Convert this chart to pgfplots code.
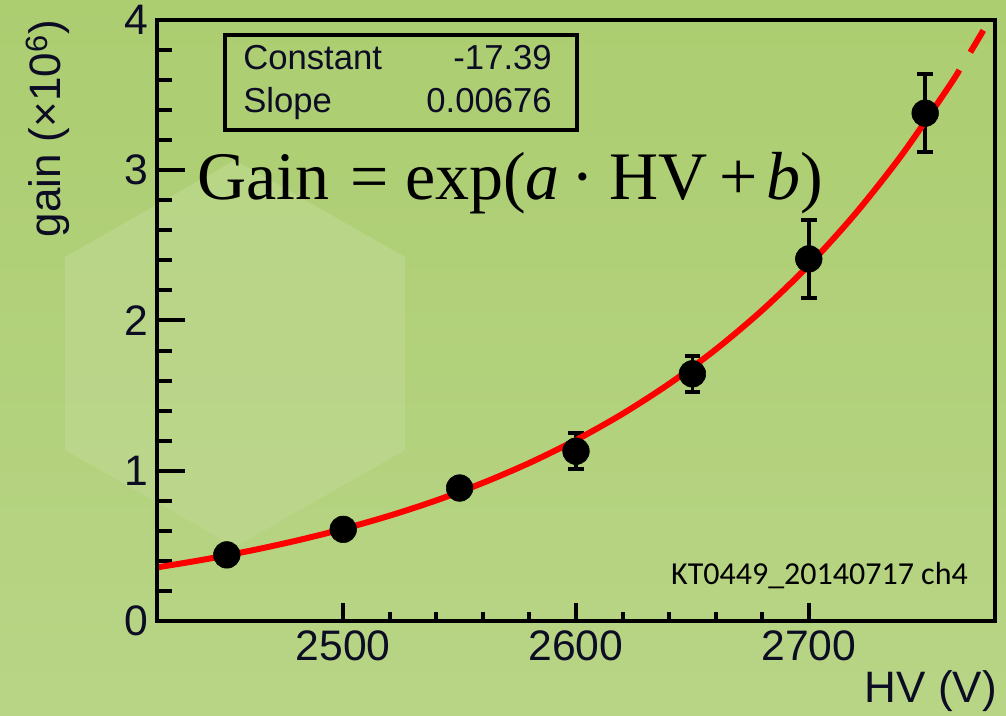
\documentclass[border=0pt]{standalone}
\usepackage{pgfplots}
\pgfplotsset{compat=1.18}
\usepackage{fontspec}
\setmainfont{Liberation Sans}
\newfontfamily\timesfont{Liberation Serif}
\newfontfamily\calibrifont{Carlito}
\definecolor{bgtop}{RGB}{172,205,112}
\definecolor{bgbot}{RGB}{184,213,134}
\definecolor{hexc}{RGB}{192,217,146}
\definecolor{txt}{RGB}{12,12,36}

\pgfplotstableread{
x y ey
2450 0.44 0
2500 0.61 0
2550 0.885 0
2600 1.13 0.12
2650 1.645 0.12
2700 2.41 0.26
2750 3.38 0.26
}\gaindata

\pgfplotsset{
  frameaxis/.style={
    at={(117.75pt,71.25pt)}, anchor=south west,
    scale only axis, width=628.5pt, height=450.75pt,
    xmin=2420, xmax=2780, ymin=0, ymax=4,
    axis line style={line width=3pt, black},
    tick align=inside,
    tick style={line width=3pt, black},
    /pgf/number format/assume math mode=true,
    /pgf/number format/1000 sep={},
    tick label style={font=\fontsize{32}{36}\selectfont, text=txt},
  }
}

\begin{document}
\begin{tikzpicture}[x=0.75pt,y=0.75pt]
\useasboundingbox (0,0) rectangle (1006,716);
\shade[top color=bgtop,bottom color=bgbot] (0,0) rectangle (1006,716);
\fill[hexc,opacity=0.6] (235,556) -- (65,459) -- (65,266) -- (235,169) -- (405,266) -- (405,459) -- cycle;

% y ticks + data
\begin{axis}[frameaxis,
  xtick=\empty,
  ytick={0,1,2,3,4}, minor y tick num=4,
  ytick pos=left,
  major tick length=21pt, minor tick length=11pt,
  yticklabel style={anchor=east, inner sep=0pt, xshift=-6.75pt},
]
\addplot[only marks, mark=*, mark size=10pt, black,
  error bars/.cd, y dir=both, y explicit, error mark=-,
  error bar style={line width=2.6pt, black},
  error mark options={rotate=90, line width=3pt, mark size=5.8pt, black}]
  table[x=x, y=y, y error=ey] {\gaindata};
\addplot[red, line width=4.5pt, smooth] coordinates {
(2420,0.3567) (2440,0.4083) (2460,0.4675) (2480,0.5352) (2500,0.6126)
(2520,0.7013) (2540,0.8028) (2560,0.9191) (2580,1.0521) (2600,1.2044)
(2620,1.3788) (2640,1.5784) (2660,1.8069) (2680,2.0685) (2700,2.3679)
(2720,2.7107) (2740,3.1031) (2760,3.5523) (2764.7,3.667)};
\addplot[red, line width=4.5pt] coordinates {(2769.4,3.785) (2775,3.931)};
\end{axis}

% x ticks
\begin{axis}[frameaxis,
  ytick=\empty,
  xtick={2500,2600,2700}, minor x tick num=4,
  xtick pos=bottom,
  major tick length=13.5pt, minor tick length=6.75pt,
  xticklabel style={anchor=north, inner sep=0pt, yshift=-6.75pt},
]
\end{axis}

% stats box
\draw[line width=3pt, black] (225,681) rectangle (577,586);
\begin{scope}[every node/.style={inner sep=0pt, text=txt, font=\fontsize{26}{30}\selectfont}]
\node[anchor=base west] at (243,646) {Constant};
\node[anchor=base east] at (552,646) {-17.39};
\node[anchor=base west] at (243,603) {Slope};
\node[anchor=base east] at (552,603) {0.00676};
\end{scope}

% formula
\node[anchor=base west, inner sep=0pt, font=\timesfont\fontsize{51}{54}\selectfont]
  at (197,516) {Gain\hspace{16pt}=\hspace{12pt}exp(\textit{a}\hspace{9pt}·\hspace{11pt}HV\hspace{9pt}+\hspace{6.75pt}\textit{b})};

% run label
\node[anchor=base east, inner sep=0pt, font=\calibrifont\fontsize{24}{28}\selectfont] at (968,131) {KT0449\_20140717 ch4};

% axis titles
\node[anchor=base east, inner sep=0pt, rotate=90, text=txt, font=\fontsize{33}{38}\selectfont] at (60,696) {gain (×10\textsuperscript{6})};
\node[anchor=base east, inner sep=0pt, text=txt, font=\fontsize{33}{38}\selectfont] at (997,13) {HV (V)};
\end{tikzpicture}
\end{document}
